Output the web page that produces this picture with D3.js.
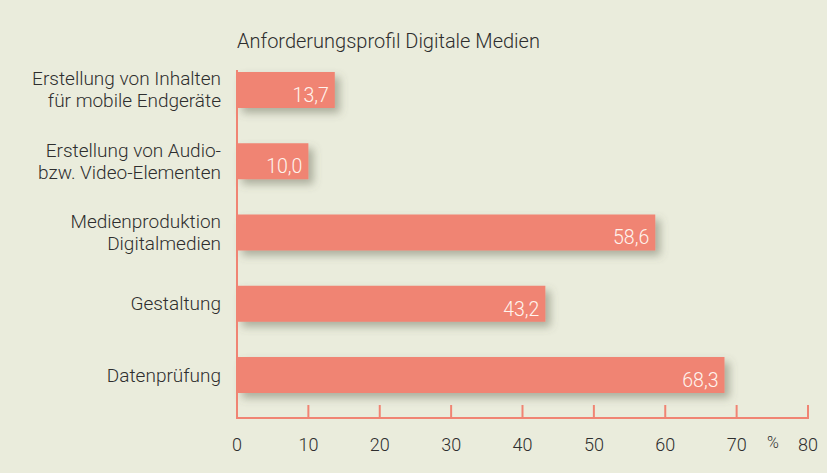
<!DOCTYPE html>
<html>
<head>
<meta charset="utf-8">
<script src="https://cdn.jsdelivr.net/npm/d3@7"></script>
<style>
  html, body { margin: 0; padding: 0; background: #eaecdc; }
  svg text { font-family: Roboto, "Liberation Sans", sans-serif; }
</style>
</head>
<body>
<div id="chart"></div>
<script>
// categories top to bottom, each label split into lines
const categories = [
    ["Erstellung von Inhalten", "für mobile Endgeräte"],
    ["Erstellung von Audio-", "bzw. Video-Elementen"],
    ["Medienproduktion", "Digitalmedien"],
    ["Gestaltung"],
    ["Datenprüfung"]
];
const values = [13.7, 10.0, 58.6, 43.2, 68.3];
const xTicks = [0, 10, 20, 30, 40, 50, 60, 70, 80];
const title = "Anforderungsprofil Digitale Medien";

const W = 827, H = 473;
const COLORS = { bg: "#eaecdc", bar: "#f08473", text: "#2e2e2e", value: "#fff4ee" };

const svg = d3.select("#chart")
    .append("svg")
    .attr("width", W)
    .attr("height", H);

svg.append("rect").attr("width", W).attr("height", H).attr("fill", COLORS.bg);

// soft drop shadow under the bars
const filter = svg.append("defs").append("filter")
    .attr("id", "shadow")
    .attr("x", "-10%").attr("y", "-30%")
    .attr("width", "130%").attr("height", "180%");
filter.append("feDropShadow")
    .attr("dx", 5).attr("dy", 5)
    .attr("stdDeviation", 4)
    .attr("flood-color", "#5f6450")
    .attr("flood-opacity", 0.45);

const xScale = d3.scaleLinear()
    .domain([0, 80])
    .range([237, 808]);

const yScale = d3.scaleBand()
    .domain(d3.range(categories.length))
    .range([72, 393])
    .paddingInner(0.495)
    .paddingOuter(0);

// title
svg.append("text")
    .attr("x", 237)
    .attr("y", 48)
    .attr("font-size", 20)
    .attr("font-weight", 300)
    .attr("fill", COLORS.text)
    .text(title);

// bars
svg.append("g")
    .selectAll("rect")
    .data(values)
    .join("rect")
    .attr("x", xScale(0))
    .attr("y", (d, i) => yScale(i))
    .attr("width", d => xScale(d) - xScale(0))
    .attr("height", yScale.bandwidth())
    .attr("fill", COLORS.bar)
    .attr("filter", "url(#shadow)");

// value labels inside bars
svg.append("g")
    .selectAll("text")
    .data(values)
    .join("text")
    .attr("x", d => xScale(d) - 6)
    .attr("y", (d, i) => yScale(i) + yScale.bandwidth() - 6)
    .attr("text-anchor", "end")
    .attr("font-size", 19.5)
    .attr("font-weight", 300)
    .attr("fill", COLORS.value)
    .text(d => d.toFixed(1).replace(".", ","));

// category labels
const catG = svg.append("g");
categories.forEach((lines, i) => {
    const cy = yScale(i) + yScale.bandwidth() / 2;
    const lh = 22;
    const t = catG.append("text")
        .attr("text-anchor", "end")
        .attr("font-size", 19)
        .attr("font-weight", 300)
        .attr("fill", COLORS.text);
    lines.forEach((line, j) => {
        t.append("tspan")
            .attr("x", 221)
            .attr("y", cy + (j - (lines.length - 1) / 2) * lh + 6.5)
            .text(line);
    });
});

// axis: vertical line, baseline, ticks
const axisY = 418;
const axisG = svg.append("g").attr("stroke", COLORS.bar).attr("stroke-width", 2);
axisG.append("line")
    .attr("x1", xScale(0)).attr("x2", xScale(0))
    .attr("y1", 70).attr("y2", axisY);
axisG.append("line")
    .attr("x1", xScale(0) - 1).attr("x2", xScale(80) + 1)
    .attr("y1", axisY).attr("y2", axisY);
axisG.selectAll("line.tick")
    .data(xTicks)
    .join("line")
    .attr("class", "tick")
    .attr("x1", d => xScale(d)).attr("x2", d => xScale(d))
    .attr("y1", axisY - 13).attr("y2", axisY);

svg.append("g")
    .selectAll("text")
    .data(xTicks)
    .join("text")
    .attr("x", d => xScale(d))
    .attr("y", 451)
    .attr("text-anchor", "middle")
    .attr("font-size", 18)
    .attr("font-weight", 300)
    .attr("fill", COLORS.text)
    .text(d => d);

svg.append("text")
    .attr("x", 773)
    .attr("y", 448)
    .attr("text-anchor", "middle")
    .attr("font-size", 16)
    .attr("font-weight", 300)
    .attr("fill", COLORS.text)
    .text("%");
</script>
</body>
</html>
